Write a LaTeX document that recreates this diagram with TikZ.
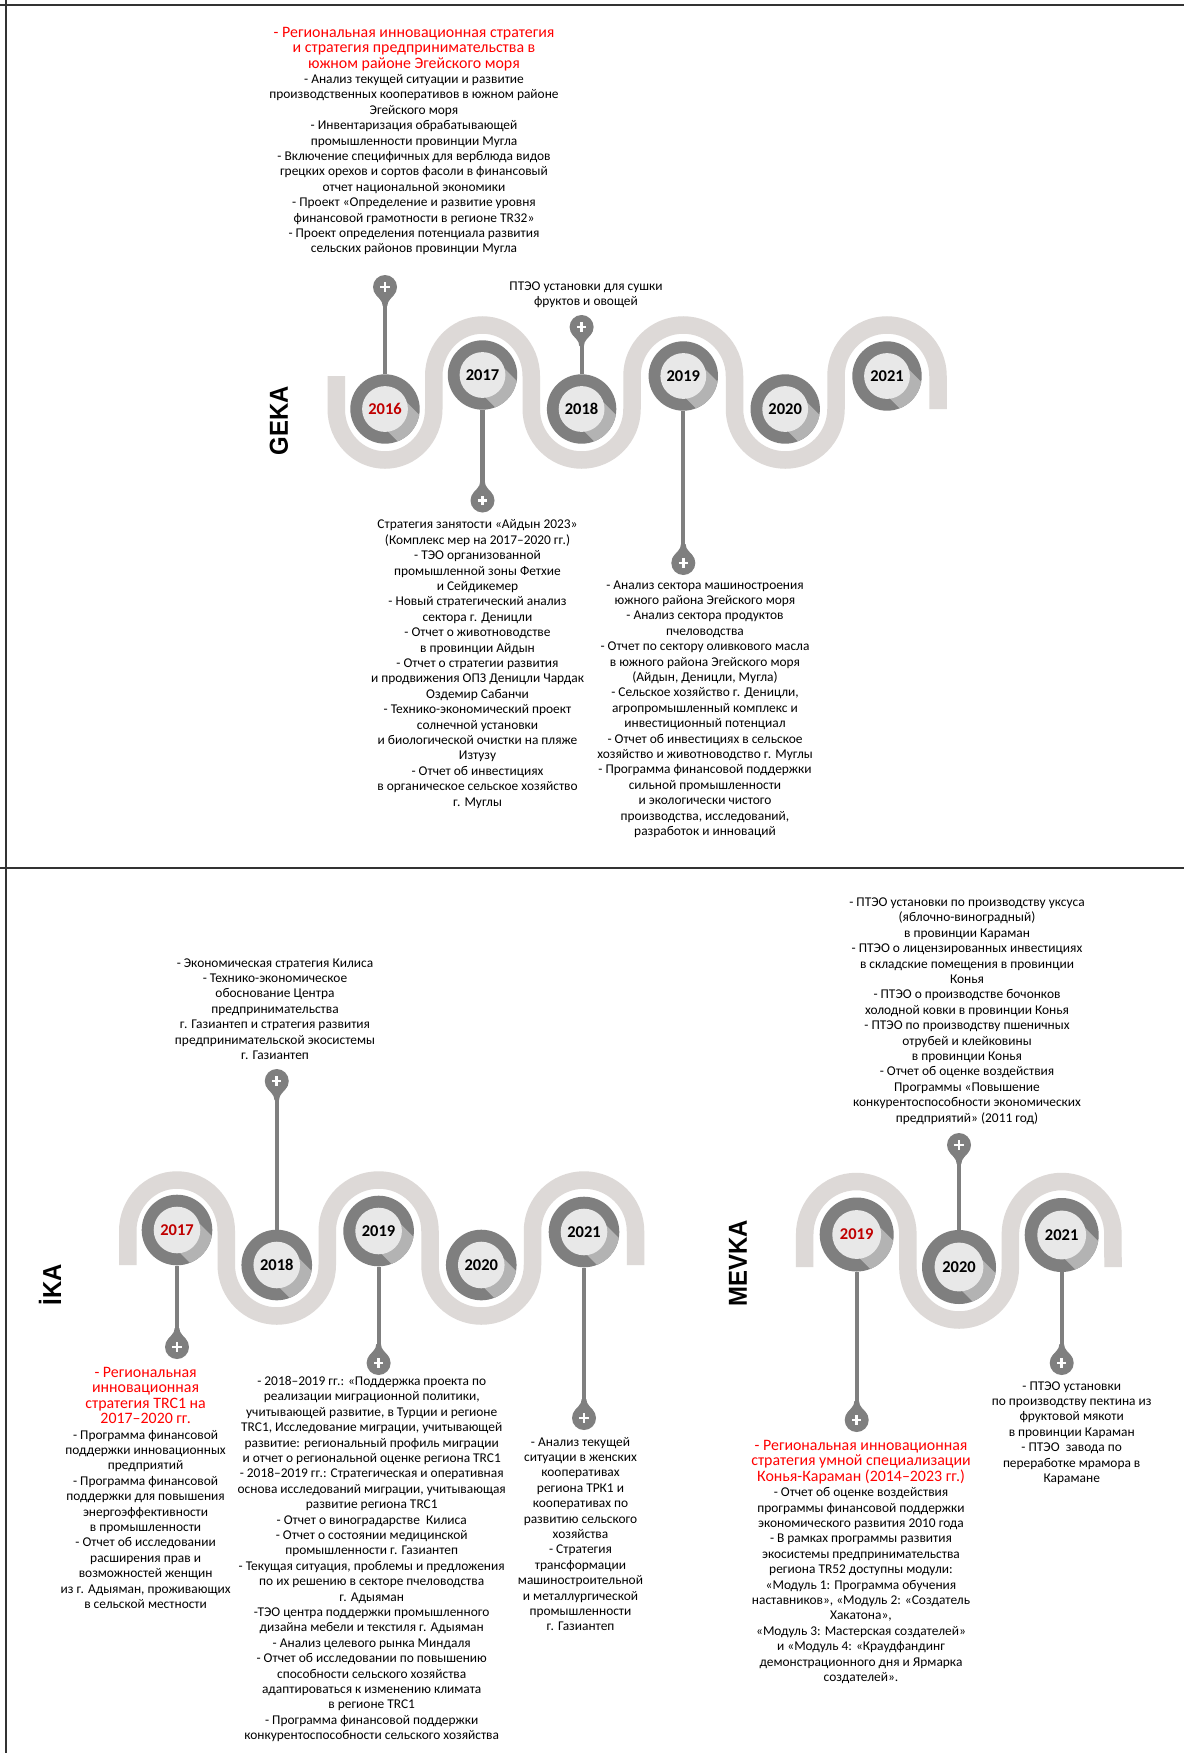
\documentclass[tikz,border=0pt]{standalone}
\usepackage{fontspec}
\setmainfont{Carlito}
\newfontfamily\titlefont{Liberation Sans}
\usetikzlibrary{calc}
\definecolor{bandgray}{HTML}{DDD9D7}
\definecolor{ringgray}{HTML}{7F7F7F}
\definecolor{shadowgray}{HTML}{B3B3B3}
\definecolor{innergray}{HTML}{E8E8E8}
\definecolor{yearred}{HTML}{C00000}
\definecolor{titlered}{HTML}{FF0000}
\definecolor{framegray}{HTML}{333333}
\newcommand\rd[1]{{\color{titlered}\fontsize{15.9}{15.4}\selectfont #1}}
% year circle: name, x, y, radius, label, colour
\newcommand\yc[6]{%
  \fill[white] (#2,#3) circle ({#4+4.5});
  \fill[ringgray] (#2,#3) circle (#4);
  \begin{scope}
    \clip (#2,#3) circle (#4);
    \fill[shadowgray] ($(#2,#3)+(-45:{0.58*#4})$) -- ++(45:90)
      -- ($(#2,#3)+(135:{0.4*#4})+(45:90)$) -- ($(#2,#3)+(135:{0.4*#4})$) -- cycle;
  \end{scope}
  \fill[innergray] (#2,#3) circle ({0.66*#4});
  \node[yeartxt,text=#6,minimum size={2*#4}] (#1) at (#2,#3) {#5};
}
% pin: name, x, y, neck direction (1 = neck below, -1 = neck above)
\newcommand\pinat[4]{%
  \begin{scope}[shift={(#2,#3)}]
    \fill[ringgray] (-2.3,{#4*19}) .. controls (-2.3,{#4*13}) and (-7.5,{#4*11}) .. (-10,{#4*6})
      -- (10,{#4*6}) .. controls (7.5,{#4*11}) and (2.3,{#4*13}) .. (2.3,{#4*19}) -- cycle;
  \end{scope}
  \node[pinnode] (#1) at (#2,#3) {};
}
\begin{document}
\begin{tikzpicture}[x=1pt,y=-1pt,
  band/.style={draw=bandgray,line width=17.5pt,line cap=butt,line join=miter},
  stem/.style={draw=ringgray,line width=4.2pt},
  yeartxt/.style={circle,inner sep=0pt,font=\bfseries\fontsize{16.5}{16.5}\selectfont},
  pinnode/.style={circle,fill=ringgray,minimum size=24pt,inner sep=0pt,
    path picture={
      \draw[white,line width=2.7pt] ([xshift=-4.6pt]path picture bounding box.center) -- ([xshift=4.6pt]path picture bounding box.center);
      \draw[white,line width=2.7pt] ([yshift=-4.6pt]path picture bounding box.center) -- ([yshift=4.6pt]path picture bounding box.center);}},
  body/.style={align=center,font=\fontsize{13.4}{15.4}\selectfont,inner sep=0pt,text=black},
  sectitle/.style={rotate=90,inner sep=0pt,font=\titlefont\bfseries\fontsize{26}{26}\selectfont}]
\useasboundingbox (0,0) rectangle (1184,1753);
\fill[white] (0,0) rectangle (1184,1753);
% frame
\draw[framegray,line width=2pt] (0,5) -- (1184,5);
\draw[framegray,line width=2pt] (6,0) -- (6,1753);
\draw[framegray,line width=2pt] (0,868) -- (1184,868);

% ================= GEKA =================
\draw[band] (336.25,376) -- (336.25,409)
  arc[start angle=180,end angle=0,x radius=48.75,y radius=51] -- (433.75,376)
  arc[start angle=180,end angle=360,x radius=48.75,y radius=51] -- (531.25,409)
  arc[start angle=180,end angle=0,x radius=50.375,y radius=51] -- (632,376)
  arc[start angle=180,end angle=360,x radius=51.25,y radius=51] -- (734.5,409)
  arc[start angle=180,end angle=0,x radius=50.75,y radius=51] -- (836,376)
  arc[start angle=180,end angle=360,x radius=51,y radius=51] -- (938,409);
\yc{g16}{385}{409}{34.7}{2016}{yearred}
\yc{g17}{482.5}{375}{34.7}{2017}{black}
\yc{g18}{581.6}{409}{34.7}{2018}{black}
\yc{g19}{683.3}{376}{34.7}{2019}{black}
\yc{g20}{785.2}{409}{34.7}{2020}{black}
\yc{g21}{887}{376}{34.7}{2021}{black}
\pinat{pg16}{385}{287}{1}
\pinat{pg17}{482.5}{500.5}{-1}
\pinat{pg18}{581.6}{327}{1}
\pinat{pg19}{683.3}{563}{-1}
\draw[stem] (pg16) -- (g16);
\draw[stem] (pg17) -- (g17);
\draw[stem] (pg18) -- (g18);
\draw[stem] (pg19) -- (g19);
\node[sectitle] (geka) at (279,421) {\scalebox{0.92}[1]{GEKA}};

\node[body] (gtop) at (414,141) {\rd{- Региональная инновационная стратегия}\\
\rd{и стратегия предпринимательства в}\\
\rd{южном районе Эгейского моря}\\
- Анализ текущей ситуации и развитие\\
производственных кооперативов в южном районе\\
Эгейского моря\\
- Инвентаризация обрабатывающей\\
промышленности провинции Мугла\\
- Включение специфичных для верблюда видов\\
грецких орехов и сортов фасоли в финансовый\\
отчет национальной экономики\\
- Проект «Определение и развитие уровня\\
финансовой грамотности в регионе TR32»\\
- Проект определения потенциала развития\\
сельских районов провинции Мугла};

\node[body] (g18t) at (586,295) {ПТЭО установки для сушки\\ фруктов и овощей};

\node[body] (g17t) at (477.5,664) {Стратегия занятости «Айдын 2023»\\
(Комплекс мер на 2017–2020 гг.)\\
- ТЭО организованной\\
промышленной зоны Фетхие\\
и Сейдикемер\\
- Новый стратегический анализ\\
сектора г. Деницли\\
- Отчет о животноводстве\\
в провинции Айдын\\
- Отчет о стратегии развития\\
и продвижения ОПЗ Деницли Чардак\\
Оздемир Сабанчи\\
- Технико-экономический проект\\
солнечной установки\\
и биологической очистки на пляже\\
Изтузу\\
- Отчет об инвестициях\\
в органическое сельское хозяйство\\
г. Муглы};

\node[body] (g19t) at (705,709) {- Анализ сектора машиностроения\\
южного района Эгейского моря\\
- Анализ сектора продуктов\\
пчеловодства\\
- Отчет по сектору оливкового масла\\
в южного района Эгейского моря\\
(Айдын, Деницли, Мугла)\\
- Сельское хозяйство г. Деницли,\\
агропромышленный комплекс и\\
инвестиционный потенциал\\
- Отчет об инвестициях в сельское\\
хозяйство и животноводство г. Муглы\\
- Программа финансовой поддержки\\
сильной промышленности\\
и экологически чистого\\
производства, исследований,\\
разработок и инноваций};

% ================= IKA =================
\draw[band] (127.75,1265) -- (127.75,1231)
  arc[start angle=180,end angle=360,x radius=49.25,y radius=51] -- (226.25,1265)
  arc[start angle=180,end angle=0,x radius=50.5,y radius=51] -- (327.25,1231)
  arc[start angle=180,end angle=360,x radius=51.375,y radius=51] -- (430,1265)
  arc[start angle=180,end angle=0,x radius=51.25,y radius=51] -- (532.5,1231)
  arc[start angle=180,end angle=360,x radius=51.5,y radius=51] -- (635.5,1265);
\yc{i17}{177}{1230}{35.3}{2017}{yearred}
\yc{i18}{276.75}{1265}{35.3}{2018}{black}
\yc{i19}{378.6}{1231}{35.3}{2019}{black}
\yc{i20}{481.25}{1265}{35.3}{2020}{black}
\yc{i21}{584}{1232}{35.3}{2021}{black}
\pinat{pi17}{177}{1347}{-1}
\pinat{pi18}{276.75}{1081}{1}
\pinat{pi19}{378.6}{1363}{-1}
\pinat{pi21}{584}{1418}{-1}
\draw[stem] (pi17) -- (i17);
\draw[stem] (pi18) -- (i18);
\draw[stem] (pi19) -- (i19);
\draw[stem] (pi21) -- (i21);
\node[sectitle] (ika) at (50,1285) {\scalebox{0.92}[1]{İKA}};

\node[body] (i18t) at (275,1009) {- Экономическая стратегия Килиса\\
- Технико-экономическое\\
обоснование Центра\\
предпринимательства\\
г. Газиантеп и стратегия развития\\
предпринимательской экосистемы\\
г. Газиантеп};

\node[body] (i17t) at (145.6,1488) {\rd{- Региональная}\\
\rd{инновационная}\\
\rd{стратегия TRC1 на}\\
\rd{2017–2020 гг.}\\
- Программа финансовой\\
поддержки инновационных\\
предприятий\\
- Программа финансовой\\
поддержки для повышения\\
энергоэффективности\\
в промышленности\\
- Отчет об исследовании\\
расширения прав и\\
возможностей женщин\\
из г. Адыяман, проживающих\\
в сельской местности};

\node[body] (i19t) at (371.7,1559) {- 2018–2019 гг.: «Поддержка проекта по\\
реализации миграционной политики,\\
учитывающей развитие, в Турции и регионе\\
TRC1, Исследование миграции, учитывающей\\
развитие: региональный профиль миграции\\
и отчет о региональной оценке региона TRC1\\
- 2018–2019 гг.: Стратегическая и оперативная\\
основа исследований миграции, учитывающая\\
развитие региона TRC1\\
- Отчет о виноградарстве\ \ Килиса\\
- Отчет о состоянии медицинской\\
промышленности г. Газиантеп\\
- Текущая ситуация, проблемы и предложения\\
по их решению в секторе пчеловодства\\
г. Адыяман\\
-ТЭО центра поддержки промышленного\\
дизайна мебели и текстиля г. Адыяман\\
- Анализ целевого рынка Миндаля\\
- Отчет об исследовании по повышению\\
способности сельского хозяйства\\
адаптироваться к изменению климата\\
в регионе TRC1\\
- Программа финансовой поддержки\\
конкурентоспособности сельского хозяйства};

\node[body] (i21t) at (580.5,1534) {- Анализ текущей\\
ситуации в женских\\
кооперативах\\
региона ТРК1 и\\
кооперативах по\\
развитию сельского\\
хозяйства\\
- Стратегия\\
трансформации\\
машиностроительной\\
и металлургической\\
промышленности\\
г. Газиантеп};

% ================= MEVKA =================
\draw[band] (804.7,1267) -- (804.7,1234.5)
  arc[start angle=180,end angle=360,x radius=51.6,y radius=53] -- (907.85,1267)
  arc[start angle=180,end angle=0,x radius=51.25,y radius=53] -- (1010.35,1234.5)
  arc[start angle=180,end angle=360,x radius=51.3,y radius=53] -- (1113,1267);
\yc{m19}{856.7}{1234.5}{37}{2019}{yearred}
\yc{m20}{959}{1267}{37}{2020}{black}
\yc{m21}{1061.7}{1235}{37}{2021}{black}
\pinat{pm19}{856.7}{1420}{-1}
\pinat{pm20}{959}{1145}{1}
\pinat{pm21}{1061.7}{1363}{-1}
\draw[stem] (pm19) -- (m19);
\draw[stem] (pm20) -- (m20);
\draw[stem] (pm21) -- (m21);
\node[sectitle] (mevka) at (738,1263) {\scalebox{0.92}[1]{MEVKA}};

\node[body] (m20t) at (967,1011) {- ПТЭО установки по производству уксуса\\
(яблочно-виноградный)\\
в провинции Караман\\
- ПТЭО о лицензированных инвестициях\\
в складские помещения в провинции\\
Конья\\
- ПТЭО о производстве бочонков\\
холодной ковки в провинции Конья\\
- ПТЭО по производству пшеничных\\
отрубей и клейковины\\
в провинции Конья\\
- Отчет об оценке воздействия\\
Программы «Повышение\\
конкурентоспособности экономических\\
предприятий» (2011 год)};

\node[body] (m19t) at (861,1562) {\rd{- Региональная инновационная}\\
\rd{стратегия умной специализации}\\
\rd{Конья-Караман (2014–2023 гг.)}\\
- Отчет об оценке воздействия\\
программы финансовой поддержки\\
экономического развития 2010 года\\
- В рамках программы развития\\
экосистемы предпринимательства\\
региона TR52 доступны модули:\\
«Модуль 1: Программа обучения\\
наставников», «Модуль 2: «Создатель\\
Хакатона»,\\
«Модуль 3: Мастерская создателей»\\
и «Модуль 4: «Краудфандинг\\
демонстрационного дня и Ярмарка\\
создателей».};

\node[body] (m21t) at (1071.7,1433) {- ПТЭО установки\\
по производству пектина из\\
фруктовой мякоти\\
в провинции Караман\\
- ПТЭО\ \ завода по\\
переработке мрамора в\\
Карамане};
\end{tikzpicture}
\end{document}
